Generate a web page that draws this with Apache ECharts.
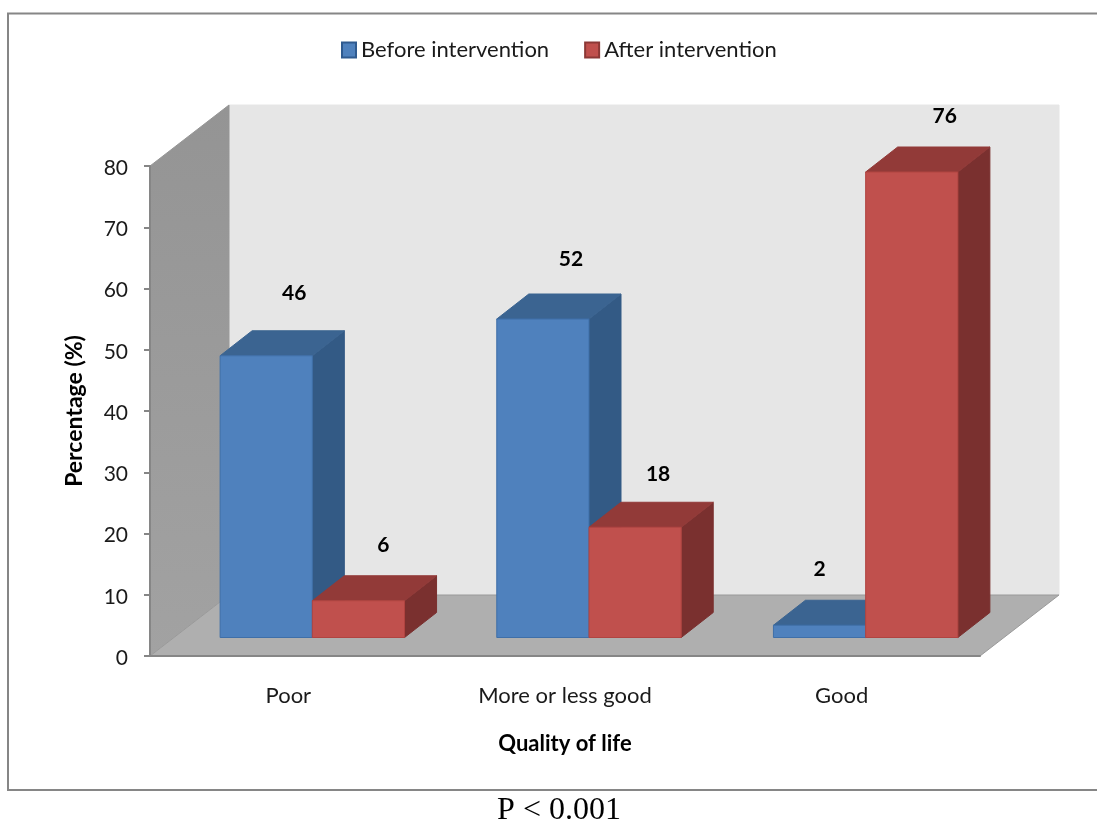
<!DOCTYPE html>
<html>
<head>
<meta charset="utf-8">
<style>html,body{margin:0;padding:0;background:#fff}#c{width:1097px;height:823px}</style>
<script src="https://cdn.jsdelivr.net/npm/echarts@6/dist/echarts.min.js"></script>
</head>
<body>
<div id="c"></div>
<script>
const categories = ['Poor', 'More or less good', 'Good'];
const beforeValues = [46, 52, 2];
const afterValues = [6, 18, 76];
const yTicks = { min: 0, max: 80, interval: 10 };

// Drawing constants (style only)
const FONT = 'Lato';
const WALL_DX = 79, WALL_DY = -61;
const FLOOR_DX = 24, FLOOR_DY = -18.5;
const BAR_DX = 32, BAR_DY = -25;
const beforeLabelShift = [[28, -63], [28, -60], [0, -56]];
const afterLabelShift = [[25, -56], [23, -53], [33, -56]];

const chart = echarts.init(document.getElementById('c'), null, { renderer: 'canvas' });

function poly(points, fill, stroke) {
  return { type: 'polygon', shape: { points }, style: { fill, stroke: stroke || fill, lineWidth: 1 } };
}

function renderWalls(params) {
  const g = params.coordSys;
  const l = g.x, r = g.x + g.width, t = g.y, b = g.y + g.height;
  return {
    type: 'group',
    children: [
      poly([[l + WALL_DX, t + WALL_DY], [r + WALL_DX, t + WALL_DY], [r + WALL_DX, b + WALL_DY], [l + WALL_DX, b + WALL_DY]], '#e6e6e6'),
      poly([[l, t], [l + WALL_DX, t + WALL_DY], [l + WALL_DX, b + WALL_DY], [l, b]],
        new echarts.graphic.LinearGradient(0, 0, 0, 1, [{ offset: 0, color: '#949494' }, { offset: 1, color: '#a2a2a2' }])),
      poly([[l, b], [l + WALL_DX, b + WALL_DY], [r + WALL_DX, b + WALL_DY], [r, b]], '#afafaf', '#9a9a9a')
    ]
  };
}

function barRenderer(slot, colors, labelShift) {
  return function (params, api) {
    const cat = api.value(0), val = api.value(1);
    const band = api.size([1, 0])[0];
    const w = band / 3;
    const top = api.coord([cat, val]);
    const base = api.coord([cat, 0]);
    const x0 = top[0] + FLOOR_DX - w + slot * w, x1 = x0 + w;
    const y0 = top[1] + FLOOR_DY, y1 = base[1] + FLOOR_DY;
    const s = labelShift[params.dataIndex];
    return {
      type: 'group',
      children: [
        poly([[x1, y0], [x1 + BAR_DX, y0 + BAR_DY], [x1 + BAR_DX, y1 + BAR_DY], [x1, y1]], colors.side),
        poly([[x0, y0], [x0 + BAR_DX, y0 + BAR_DY], [x1 + BAR_DX, y0 + BAR_DY], [x1, y0]], colors.top),
        poly([[x0, y0], [x1, y0], [x1, y1], [x0, y1]], colors.front, colors.edge),
        {
          type: 'text',
          style: {
            text: String(val),
            x: (x0 + x1) / 2 + s[0],
            y: y0 + s[1],
            align: 'center',
            verticalAlign: 'middle',
            fill: '#000',
            font: 'bold 21px ' + FONT
          }
        }
      ]
    };
  };
}

const toData = arr => arr.map((v, i) => [i, v]);

chart.setOption({
  animation: false,
  backgroundColor: '#fff',
  textStyle: { fontFamily: FONT },
  grid: { left: 150, top: 166, width: 830, height: 490, containLabel: false },
  legend: {
    left: 336, top: 34,
    itemWidth: 14, itemHeight: 15, itemGap: 35,
    selectedMode: false,
    icon: 'rect',
    data: ['Before intervention', 'After intervention'],
    textStyle: { fontFamily: FONT, fontSize: 22, color: '#1a1a1a', padding: [0, 0, 0, 0] }
  },
  xAxis: {
    type: 'category',
    z: 5,
    data: categories,
    name: 'Quality of life',
    nameLocation: 'middle',
    nameGap: 77,
    nameTextStyle: { fontFamily: FONT, fontSize: 22, fontWeight: 'bold', color: '#000' },
    axisTick: { show: false },
    axisLine: { lineStyle: { color: '#868686', width: 2 } },
    axisLabel: { margin: 29, fontFamily: FONT, fontSize: 22, color: '#1a1a1a' }
  },
  yAxis: {
    type: 'value',
    z: 5,
    min: yTicks.min, max: yTicks.max, interval: yTicks.interval,
    name: 'Percentage (%)',
    nameLocation: 'middle',
    nameGap: 64,
    nameTextStyle: { fontFamily: FONT, fontSize: 23, fontWeight: 'bold', color: '#000' },
    splitLine: { show: false },
    axisLine: { show: true, lineStyle: { color: '#868686', width: 2 } },
    axisTick: { show: true, length: 6, lineStyle: { color: '#868686', width: 2 } },
    axisLabel: {
      margin: 22,
      formatter: '{a|{value}}',
      rich: { a: { fontFamily: FONT, fontSize: 21, color: '#1a1a1a', padding: [4, 0, 0, 0] } }
    }
  },
  series: [
    {
      type: 'custom', silent: true, clip: false, z: 1,
      coordinateSystem: 'cartesian2d',
      renderItem: renderWalls,
      data: [[0, 0]]
    },
    {
      type: 'custom', name: 'Before intervention', clip: false, z: 2,
      coordinateSystem: 'cartesian2d',
      encode: { x: 0, y: 1 },
      itemStyle: { color: '#4f81bd', borderColor: '#2f5a8f', borderWidth: 1 },
      renderItem: barRenderer(0, { front: '#4f81bd', side: '#335a85', top: '#3b6491', edge: '#3f6fa8' }, beforeLabelShift),
      data: toData(beforeValues)
    },
    {
      type: 'custom', name: 'After intervention', clip: false, z: 3,
      coordinateSystem: 'cartesian2d',
      encode: { x: 0, y: 1 },
      itemStyle: { color: '#c0504d', borderColor: '#8c3836', borderWidth: 1 },
      renderItem: barRenderer(1, { front: '#c0504d', side: '#7a302f', top: '#923a38', edge: '#b04441' }, afterLabelShift),
      data: toData(afterValues)
    }
  ],
  graphic: [
    {
      type: 'rect', silent: true, z: -1,
      shape: { x: 8, y: 13.5, width: 1110, height: 776.5 },
      style: { fill: '#fff', stroke: '#868686', lineWidth: 2 }
    },
    {
      type: 'text', silent: true,
      style: { text: 'P < 0.001', x: 559, y: 811, align: 'center', verticalAlign: 'middle', fill: '#000', font: '32px "Liberation Serif"' }
    }
  ]
});
</script>
</body>
</html>
